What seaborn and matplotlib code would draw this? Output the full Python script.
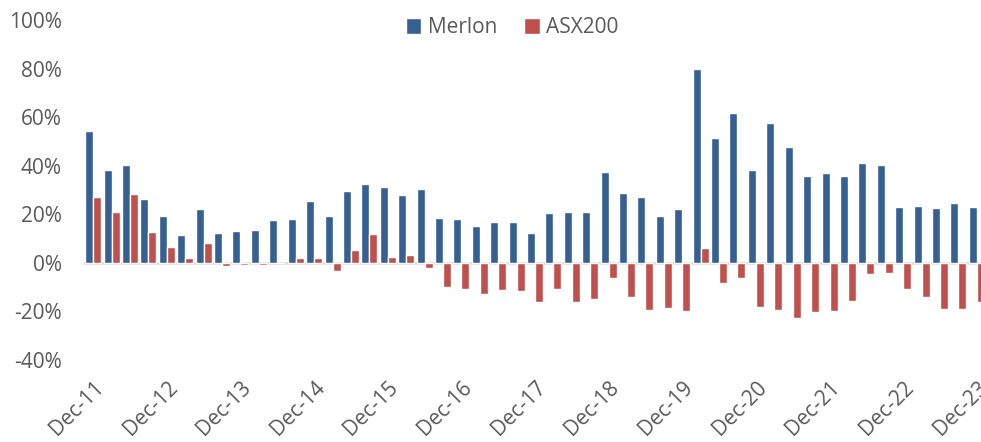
import seaborn as sns
import pandas as pd
import matplotlib.pyplot as plt
import matplotlib.transforms as mtransforms

# quarterly values, Dec-11 .. Dec-23 (49 quarters)
years = list(range(11, 24))
quarters = []
for y in years:
    for m in ["Dec", "Mar", "Jun", "Sep"]:
        if m == "Dec":
            quarters.append(f"Dec-{y}")
        else:
            quarters.append(f"{m}-{y + 1}")
quarters = quarters[:49]

merlon = [54.4, 38.4, 40.5, 26.3, 19.3, 11.3, 22.3, 12.3, 13.1, 13.4,
          17.8, 18.2, 25.6, 19.4, 29.5, 32.4, 31.1, 28.0, 30.6, 18.3,
          18.2, 15.3, 16.9, 16.9, 12.3, 20.4, 21.1, 20.8, 37.5, 28.9,
          27.0, 19.3, 22.2, 79.9, 51.4, 61.7, 38.4, 57.6, 47.9, 35.8,
          37.2, 35.8, 41.0, 40.5, 22.9, 23.3, 22.5, 24.5, 23.0]
asx200 = [27.1, 20.9, 28.2, 12.7, 6.7, 2.2, 8.1, -1.4, -1.0, -0.7,
          -0.2, 2.2, 2.1, -3.2, 5.2, 11.7, 2.3, 3.3, -2.2, -9.8,
          -10.6, -12.9, -11.0, -11.6, -16.1, -10.7, -16.0, -14.7, -6.1, -13.9,
          -19.3, -18.7, -19.8, 6.3, -8.3, -6.2, -18.0, -19.4, -22.5, -20.1,
          -19.8, -15.6, -4.7, -4.0, -10.9, -14.2, -18.9, -19.1, -16.0]

df = pd.DataFrame({"quarter": quarters * 2,
                   "value": merlon + asx200,
                   "series": ["Merlon"] * 49 + ["ASX200"] * 49})

sns.set_style("white")
plt.rcParams["font.family"] = ["Open Sans", "DejaVu Sans"]
text_col = "#595959"

fig = plt.figure(figsize=(9.81, 4.42), dpi=100)
ax = fig.add_axes([84 / 981, 82 / 442, 902 / 981, 340 / 442])

sns.barplot(data=df, x="quarter", y="value", hue="series",
            palette={"Merlon": "#366092", "ASX200": "#C0504D"},
            width=0.87, saturation=1, ax=ax, legend=True)

ax.axhline(0, color="#d9d9d9", lw=1.8, zorder=0)
ax.set_ylim(-40, 100)
ax.set_xlim(-0.5, 48.5)
ax.set_yticks(range(-40, 101, 20))
ax.set_yticklabels([f"{v}%" for v in range(-40, 101, 20)])
ticks = list(range(0, 49, 4))
ax.set_xticks(ticks)
ax.set_xticklabels([quarters[i] for i in ticks], rotation=45, ha="right",
                   rotation_mode="anchor")
ax.tick_params(axis="y", length=0, pad=16, labelsize=15, labelcolor=text_col)
ax.tick_params(axis="x", length=0, pad=12, labelsize=15, labelcolor=text_col)
shift = mtransforms.ScaledTranslation(0.0, 0, fig.dpi_scale_trans)
for lab in ax.get_xticklabels():
    lab.set_transform(lab.get_transform() + shift)
ax.set_xlabel("")
ax.set_ylabel("")
sns.despine(ax=ax, left=True, bottom=True)

ax.legend(loc="center", bbox_to_anchor=(0.522, 0.937),
          bbox_transform=fig.transFigure, ncol=2, frameon=False,
          fontsize=15, labelcolor=text_col, handlelength=0.75,
          handleheight=0.75, handletextpad=0.3, columnspacing=1.3)

fig.savefig("out.png", dpi=100)
